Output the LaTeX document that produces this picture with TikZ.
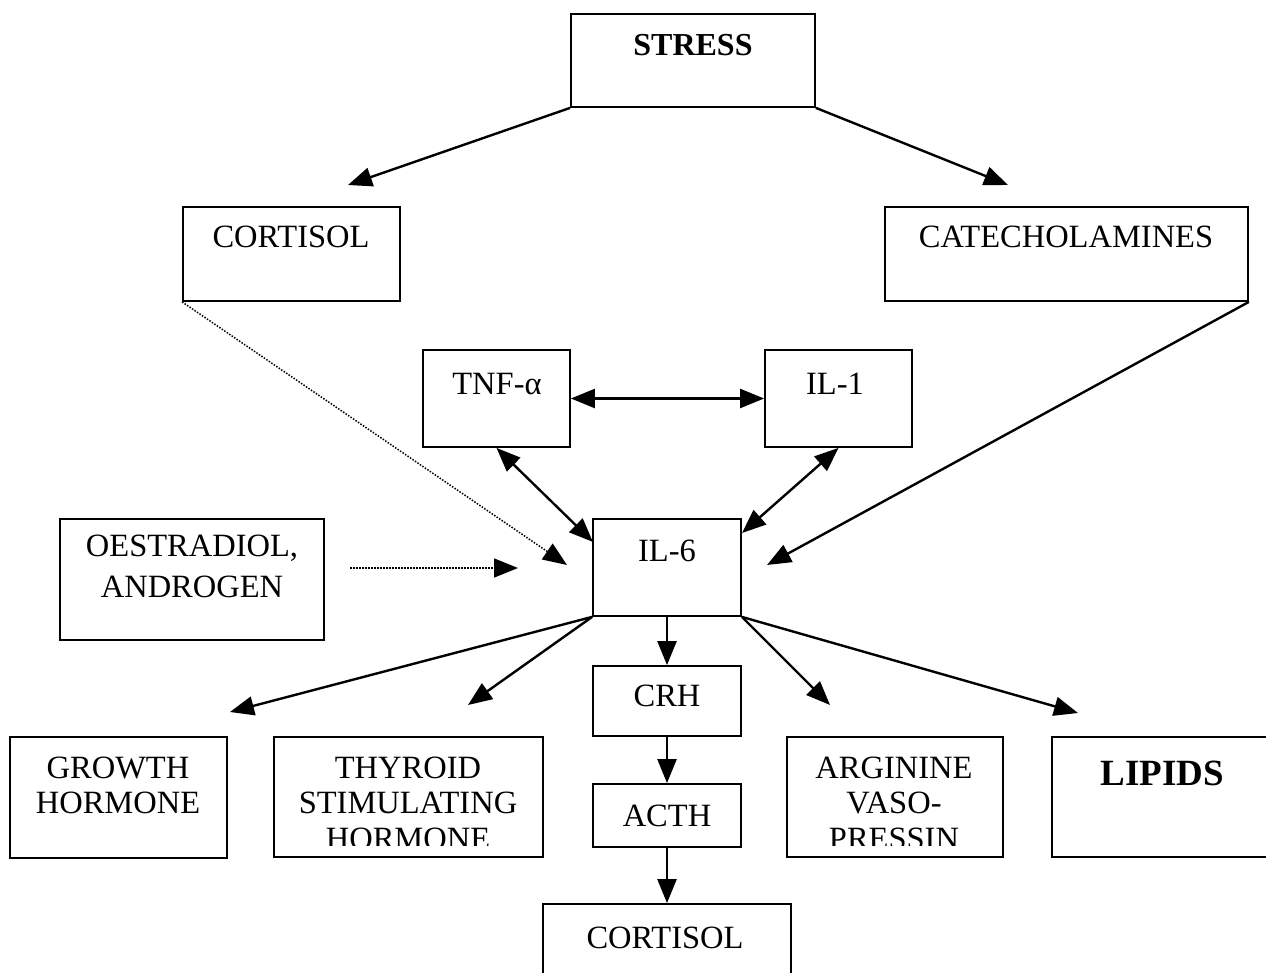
\documentclass[tikz,border=0pt]{standalone}
\usepackage{fontspec}
\setmainfont{Liberation Serif}
\usetikzlibrary{arrows.meta,fit}
\begin{document}
\begin{tikzpicture}[x=1pt,y=-1pt,
  box/.style={draw,line width=1.8pt,inner sep=0pt},
  txt/.style={anchor=base,inner sep=0pt,font=\fontsize{32.5}{35}\selectfont},
  btxt/.style={anchor=base,inner sep=0pt,font=\fontsize{32}{35}\selectfont\bfseries},
  arr/.style={line width=2.4pt,-{Triangle[length=24pt,width=19pt]}},
  darr/.style={line width=1.5pt,dash pattern=on 1.5pt off 1.5pt,-{Triangle[length=24pt,width=19pt]}},
  dbl/.style={line width=2.4pt,{Triangle[length=24pt,width=19pt]}-{Triangle[length=24pt,width=19pt]}}]
\useasboundingbox (0,0) rectangle (1266,973);
% boxes
\node[box,fit={(571,14) (815,107)}] (stress) {};
\node[box,fit={(183,207) (400,301)}] (cortA) {};
\node[box,fit={(885,207) (1248,301)}] (cate) {};
\node[box,fit={(423,350) (570,447)}] (tnf) {};
\node[box,fit={(765,350) (912,447)}] (il1) {};
\node[box,fit={(593,519) (741,616)}] (il6) {};
\node[box,fit={(60,519) (324,640)}] (oes) {};
\node[box,fit={(593,666) (741,736)}] (crh) {};
\node[box,fit={(593,784) (741,847)}] (acth) {};
\node[box,fit={(543,904) (791,995)}] (cortB) {};
\node[box,fit={(10,737) (227,858)}] (gh) {};
\node[box,fit={(274,737) (543,857)}] (tsh) {};
\node[box,fit={(787,737) (1003,857)}] (avp) {};
\node[box,fit={(1052,737) (1280,857)}] (lip) {};
% texts
\node[btxt] (stressT) at (693,56) {STRESS};
\node[txt] (cortAT) at (291,248) {CORTISOL};
\node[txt] (cateT) at (1066,248) {CATECHOLAMINES};
\node[txt] (tnfT) at (497,394) {TNF-α};
\node[txt] (il1T) at (835,394) {IL-1};
\node[txt] (il6T) at (667,561) {IL-6};
\node[txt] (oesT1) at (192,556) {OESTRADIOL,};
\node[txt] (oesT2) at (192,597) {ANDROGEN};
\node[txt] (crhT) at (667,706) {CRH};
\node[txt] (acthT) at (667,826) {ACTH};
\node[txt] (cortBT) at (665,948) {CORTISOL};
\node[txt] (ghT1) at (118,778) {GROWTH};
\node[txt] (ghT2) at (118,813) {HORMONE};
\node[txt] (tshT1) at (408,778) {THYROID};
\node[txt] (tshT2) at (408,813) {STIMULATING};
\node[txt] (avpT1) at (894,778) {ARGININE};
\node[txt] (avpT2) at (894,813) {VASO-};
\begin{scope}
  \clip (274,700) rectangle (1003,845);
  \node[txt] (tshT3) at (408,849) {HORMONE};
  \node[txt] (avpT3) at (894,849) {PRESSIN};
\end{scope}
\node[btxt,font=\fontsize{37}{40}\selectfont\bfseries] (lipT) at (1162,785) {LIPIDS};
% free arrow ends
\coordinate (tC) at (348,185);
\coordinate (tK) at (1008,185);
\coordinate (tD1) at (567,565);
\coordinate (sO) at (350,568);
\coordinate (tO) at (518,568);
\coordinate (tKI) at (767,565);
\coordinate (i6a) at (593,542);
\coordinate (i6b) at (742,533);
\coordinate (tG) at (230,712);
\coordinate (tT) at (468,705);
\coordinate (tA) at (830,705);
\coordinate (tL) at (1078,713);
% connectors
\draw[arr] (stress.south west) -- (tC);
\draw[arr] (stress.south east) -- (tK);
\draw[darr] (cortA.south west) -- (tD1);
\draw[darr] (sO) -- (tO);
\draw[arr] (cate.south east) -- (tKI);
\draw[dbl] (tnf.east) -- (il1.west);
\draw[dbl] (tnf.south) -- (i6a);
\draw[dbl] (il1.south) -- (i6b);
\draw[arr] (il6.south west) -- (tG);
\draw[arr] (il6.south west) -- (tT);
\draw[arr] (il6.south) -- (crh.north);
\draw[arr] (il6.south east) -- (tA);
\draw[arr] (il6.south east) -- (tL);
\draw[arr] (crh.south) -- (acth.north);
\draw[arr] (acth.south) -- (cortB.north);
\end{tikzpicture}
\end{document}
